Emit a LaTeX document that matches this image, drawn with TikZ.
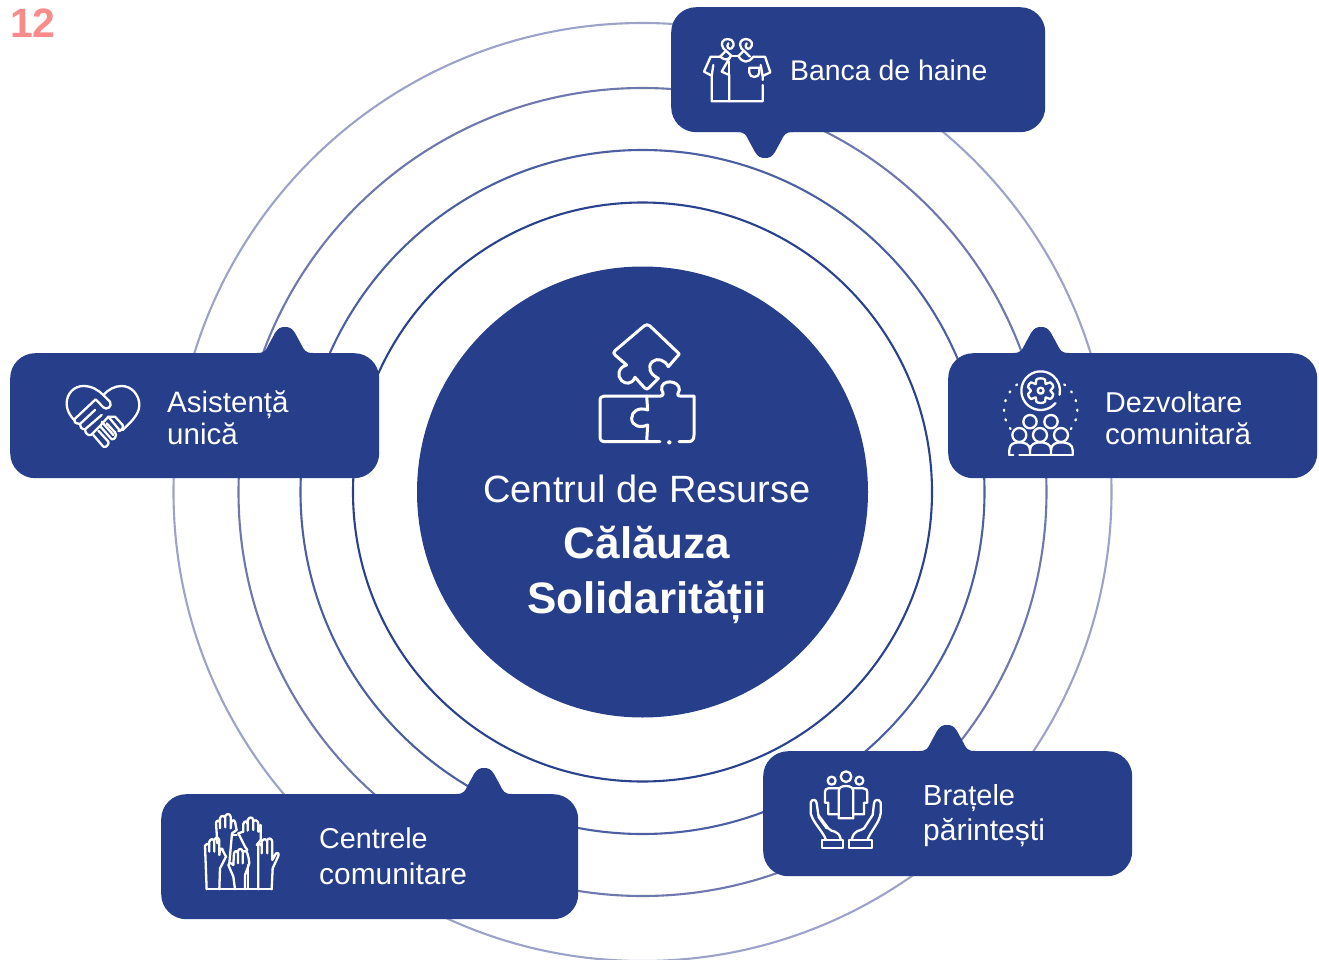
\documentclass[tikz,border=0pt]{standalone}
\usepackage{fontspec}
\setmainfont{Liberation Sans}
\definecolor{navy}{HTML}{273F8B}
\definecolor{ringa}{HTML}{2A428D}
\definecolor{ringb}{HTML}{4C5FA1}
\definecolor{ringc}{HTML}{6F77AF}
\definecolor{ringd}{HTML}{9DA2C9}
\definecolor{salmon}{HTML}{F98C8A}
\tikzset{
  ring/.style={draw=#1,line width=2.1pt,fill=none},
  bubble/.style={fill=navy,rounded corners=25pt,anchor=north west,inner sep=0pt},
  lab/.style={text=white,anchor=base west,inner sep=0pt,font=\fontsize{29.5}{32}\selectfont},
  ico/.style={draw=white,line width=2.3pt,line cap=round,line join=round,fill=none},
}
\newcommand{\tabshape}[3]{%
  \fill[navy,shift={(#1,#2)},yscale=#3] (-28,-2) -- (-28,0) .. controls (-20,0) and (-19,3) .. (-16,9)
   -- (-10,20) .. controls (-7,25) and (-4,26) .. (0,26) .. controls (4,26) and (7,25) .. (10,20)
   -- (16,9) .. controls (19,3) and (20,0) .. (28,0) -- (28,-2) -- cycle;}
\begin{document}
\begin{tikzpicture}[x=1pt,y=-1pt]
\useasboundingbox[fill=white] (0,0) rectangle (1319,960);
\coordinate (c) at (642.5,492);
\node[text=salmon,anchor=base west,inner sep=0pt,font=\fontsize{41}{41}\selectfont\bfseries] (num) at (10,38) {12};
\draw[ring=ringd] (c) circle[radius=469];
\draw[ring=ringc] (c) circle[radius=404];
\draw[ring=ringb] (c) circle[radius=342];
\draw[ring=ringa] (c) circle[radius=289.5];
\fill[navy] (c) circle[radius=225.5];
\node[fill=none,inner sep=0pt] (core) at (c) {};
% bubbles
\node[bubble,minimum width=374pt,minimum height=125pt] (banca) at (671,7) {};
\tabshape{765}{132}{1}
\node[bubble,minimum width=369pt,minimum height=125pt] (asist) at (10,353) {};
\tabshape{285}{353}{-1}
\node[bubble,minimum width=369pt,minimum height=125pt] (dezv) at (948,353) {};
\tabshape{1041}{353}{-1}
\node[bubble,minimum width=369pt,minimum height=125pt] (brat) at (763,751) {};
\tabshape{947}{751}{-1}
\node[bubble,minimum width=417pt,minimum height=125pt] (centr) at (161,794) {};
\tabshape{484}{794}{-1}
% texts
\node[text=white,anchor=base,inner sep=0pt,font=\fontsize{38}{40}\selectfont] (t1) at (647,502) {Centrul de Resurse};
\node[text=white,anchor=base,inner sep=0pt,font=\fontsize{44}{46}\selectfont\bfseries] (t2) at (647,558) {Călăuza};
\node[text=white,anchor=base,inner sep=0pt,font=\fontsize{44}{46}\selectfont\bfseries] (t3) at (647,613) {Solidarității};
\node[lab,font=\fontsize{28.4}{32}\selectfont] (l1) at (790,81) {Banca de haine};
\node[lab] (l2a) at (167,412) {Asistență};
\node[lab] (l2b) at (167,444) {unică};
\node[lab,font=\fontsize{28.7}{32}\selectfont] (l3a) at (1105,412) {Dezvoltare};
\node[lab] (l3b) at (1105,444) {comunitară};
\node[lab,font=\fontsize{29}{32}\selectfont] (l4a) at (923,805) {Brațele};
\node[lab,font=\fontsize{30}{32}\selectfont] (l4b) at (923,840) {părintești};
\node[lab,font=\fontsize{28.7}{32}\selectfont] (l5a) at (319,848) {Centrele};
\node[lab,font=\fontsize{29.9}{32}\selectfont] (l5b) at (319,884) {comunitare};
% puzzle
\begin{scope}[shift={(570,310)},scale=1/3,ico,line width=3pt]
\draw (295,170) .. controls (285,150) and (262,142) .. (247,155) .. controls (232,170) and (238,192) .. (265,205)
 -- (236,234) .. controls (232,238) and (228,238) .. (224,234) -- (195,202)
 .. controls (185,225) and (165,222) .. (155,212) .. controls (140,198) and (145,172) .. (170,165)
 -- (135,135) .. controls (130,130) and (130,127) .. (135,122) -- (222,48) .. controls (228,43) and (234,43) .. (240,48)
 -- (328,132) -- (295,170);
\draw (272,258) -- (104,258) .. controls (95,258) and (90,262) .. (90,272) -- (90,380) .. controls (90,390) and (95,395) .. (105,395) -- (270,395);
\draw (230,258) -- (233,300) .. controls (205,290) and (185,305) .. (185,325) .. controls (185,348) and (210,355) .. (233,345) -- (230,395);
\draw (272,258) .. controls (280,258) and (282,250) .. (275,240) .. controls (270,205) and (330,210) .. (328,240) .. controls (325,248) and (318,258) .. (330,258) -- (372,258) -- (372,375) .. controls (372,390) and (365,395) .. (355,395) -- (327,395);
\fill[white,draw=none] (298,397) circle[radius=6.5];
\end{scope}
% shirts
\begin{scope}[shift={(670,0)},scale=1/3,ico]
\draw (185,168) -- (160,145) .. controls (150,130) and (158,117) .. (173,117) .. controls (190,117) and (197,135) .. (185,145) .. controls (175,150) and (168,140) .. (175,130);
\draw (240,170) -- (214,145) .. controls (205,130) and (213,117) .. (228,117) .. controls (245,117) and (252,135) .. (240,145) .. controls (230,150) and (223,140) .. (230,130);
\draw (168,152) -- (150,170) .. controls (165,182) and (175,180) .. (182,170);
\draw (222,152) -- (205,168) .. controls (218,190) and (235,190) .. (250,170);
\draw (150,170) -- (122,170) -- (102,215) -- (125,227) -- (125,304) -- (278,304) -- (278,255);
\draw (125,227) -- (130,195);
\draw (182,168) -- (155,215) -- (178,225) -- (178,304);
\draw (178,185) -- (178,225);
\draw (182,168) -- (205,168);
\draw (250,170) -- (285,170) -- (301,217) -- (278,228) -- (278,240);
\draw (278,228) -- (272,195);
\draw (238,203) -- (268,203) -- (268,218) .. controls (268,235) and (238,235) .. (238,218) -- cycle;
\end{scope}
% heart
\begin{scope}[shift={(40,360)},scale=1/3,ico]
\draw (105,183) .. controls (88,165) and (80,150) .. (80,130) .. controls (80,100) and (103,78) .. (130,78) .. controls (155,78) and (175,90) .. (190,105) -- (210,125) .. controls (218,140) and (200,152) .. (190,142) -- (167,118) -- (103,178) .. controls (100,185) and (105,190) .. (120,192) .. controls (118,200) and (125,208) .. (135,208) .. controls (135,220) and (145,228) .. (153,225);
\draw (190,105) .. controls (205,88) and (225,78) .. (245,78) .. controls (275,78) and (298,105) .. (298,135) .. controls (298,165) and (270,188) .. (248,210);
\draw (120,192) -- (165,150);
\draw (135,208) -- (185,165);
\draw (153,225) -- (180,198) -- (205,170) -- (225,170) -- (248,195) .. controls (250,205) and (245,212) .. (235,213);
\draw (180,198) -- (215,238) .. controls (225,240) and (232,225) .. (225,217) -- (200,190);
\draw (160,225) -- (190,260) .. controls (200,265) and (208,250) .. (205,245) -- (175,212);
\draw (185,185) -- (220,225);
\draw (205,170) -- (240,212);
\end{scope}
% community
\begin{scope}[shift={(990,325)},scale=1/3,ico]
\draw (152,197) ++(40:58) arc[start angle=40,end angle=372,radius=58];
\draw (152,197) circle[radius=9];
\draw plot[smooth cycle,tension=.7] coordinates {(152,160) (165,164) (167,177) (181,172) (190,186) (181,197) (190,208) (181,222) (167,217) (165,230) (152,234) (139,230) (137,217) (123,222) (114,208) (123,197) (114,186) (123,172) (137,177) (139,164)};
\draw[dash pattern=on 1.2pt off 8.6pt] (152,255) ++(-130:110 and 100) arc[start angle=-130,end angle=-218,x radius=110,y radius=100];
\draw[dash pattern=on 1.2pt off 8.6pt] (152,255) ++(-50:110 and 100) arc[start angle=-50,end angle=38,x radius=110,y radius=100];
\draw (120,290) circle[radius=20];
\draw (183,290) circle[radius=20];
\draw (88,330) circle[radius=21];
\draw (150,330) circle[radius=21];
\draw (213,330) circle[radius=21];
\draw (58,390) -- (58,375) .. controls (58,358) and (70,352) .. (88,352) .. controls (105,352) and (120,358) .. (120,375) -- (120,390);
\draw (120,375) .. controls (120,358) and (135,352) .. (150,352) .. controls (168,352) and (183,358) .. (183,375) -- (183,390);
\draw (183,375) .. controls (183,358) and (198,352) .. (213,352) .. controls (232,352) and (248,358) .. (248,375) -- (248,390);
\draw (58,390) -- (70,390);
\draw (88,390) -- (248,390);
\end{scope}
% parents
\begin{scope}[shift={(790,760)},scale=1/3,ico]
\draw (125,62) circle[radius=12];
\draw (168,50) circle[radius=16];
\draw (208,62) circle[radius=12];
\draw (146,175) -- (146,95) .. controls (146,82) and (155,78) .. (168,78) .. controls (180,78) and (190,82) .. (190,95) -- (190,175) -- cycle;
\draw (146,85) -- (115,85) .. controls (108,85) and (105,90) .. (105,96) -- (105,128) -- (115,128) -- (115,163) -- (146,163);
\draw (190,85) -- (220,85) .. controls (228,85) and (232,90) .. (232,96) -- (232,128) -- (222,128) -- (222,163) -- (190,163);
\draw (95,240) -- (160,240) -- (160,265) -- (95,265) -- cycle;
\draw (178,240) -- (245,240) -- (245,265) -- (178,265) -- cycle;
\draw (108,240) .. controls (100,215) and (70,190) .. (62,160) -- (62,128) .. controls (65,115) and (80,118) .. (80,130) -- (85,165) -- (115,205) .. controls (125,220) and (145,205) .. (153,240);
\draw (85,170) -- (110,205);
\draw (232,240) .. controls (240,215) and (268,190) .. (272,160) -- (272,128) .. controls (268,115) and (252,118) .. (252,130) -- (248,165) -- (222,205) .. controls (212,215) and (192,205) .. (185,240);
\end{scope}
% hands
\begin{scope}[shift={(190,800)},scale=1/3,ico]
\draw (50,268) -- (245,268);
\draw (50,268) -- (45,137) .. controls (48,130) and (55,130) .. (58,135) -- (58,155) -- (58,125) .. controls (62,115) and (70,115) .. (73,125) -- (73,155) -- (73,120) .. controls (77,110) and (85,112) .. (88,120) -- (88,165) -- (90,150) .. controls (95,140) and (100,150) .. (100,155) -- (108,170) -- (90,205) -- (88,268);
\draw (82,130) -- (78,68) .. controls (80,60) and (88,60) .. (90,68) -- (90,85) -- (90,55) .. controls (93,45) and (103,45) .. (106,55) -- (106,82) -- (106,48) .. controls (110,40) and (120,40) .. (122,50) -- (122,85) -- (124,65) .. controls (128,58) and (135,60) .. (135,65) -- (140,90) -- (126,100) -- (118,190);
\draw (145,100) -- (160,95) -- (160,72) .. controls (163,62) and (170,62) .. (173,72) -- (173,92) -- (173,60) .. controls (178,50) and (188,50) .. (190,60) -- (190,90) -- (190,65) .. controls (194,58) and (203,60) .. (205,70) -- (205,95) -- (212,75) -- (212,120) -- (200,135);
\draw (145,100) -- (165,140) -- (172,150);
\draw (126,105) -- (140,105);
\draw (175,195) -- (175,265);
\draw (135,268) -- (130,230) -- (115,195) .. controls (118,185) and (125,190) .. (130,195) -- (132,160) .. controls (135,150) and (142,152) .. (144,160) -- (144,190) -- (144,152) .. controls (148,145) and (156,145) .. (158,155) -- (158,190) -- (158,158) .. controls (162,150) and (170,152) .. (172,160) -- (176,175) -- (178,190) -- (165,225) -- (165,268);
\draw (205,268) -- (205,135) .. controls (208,128) and (215,130) .. (215,138) -- (215,160) -- (215,125) .. controls (220,115) and (228,115) .. (232,125) -- (232,160) -- (232,120) .. controls (236,112) and (245,115) .. (247,125) -- (247,180) -- (258,160) .. controls (262,155) and (268,160) .. (265,168) -- (248,205) -- (245,268);
\end{scope}
\end{tikzpicture}
\end{document}
